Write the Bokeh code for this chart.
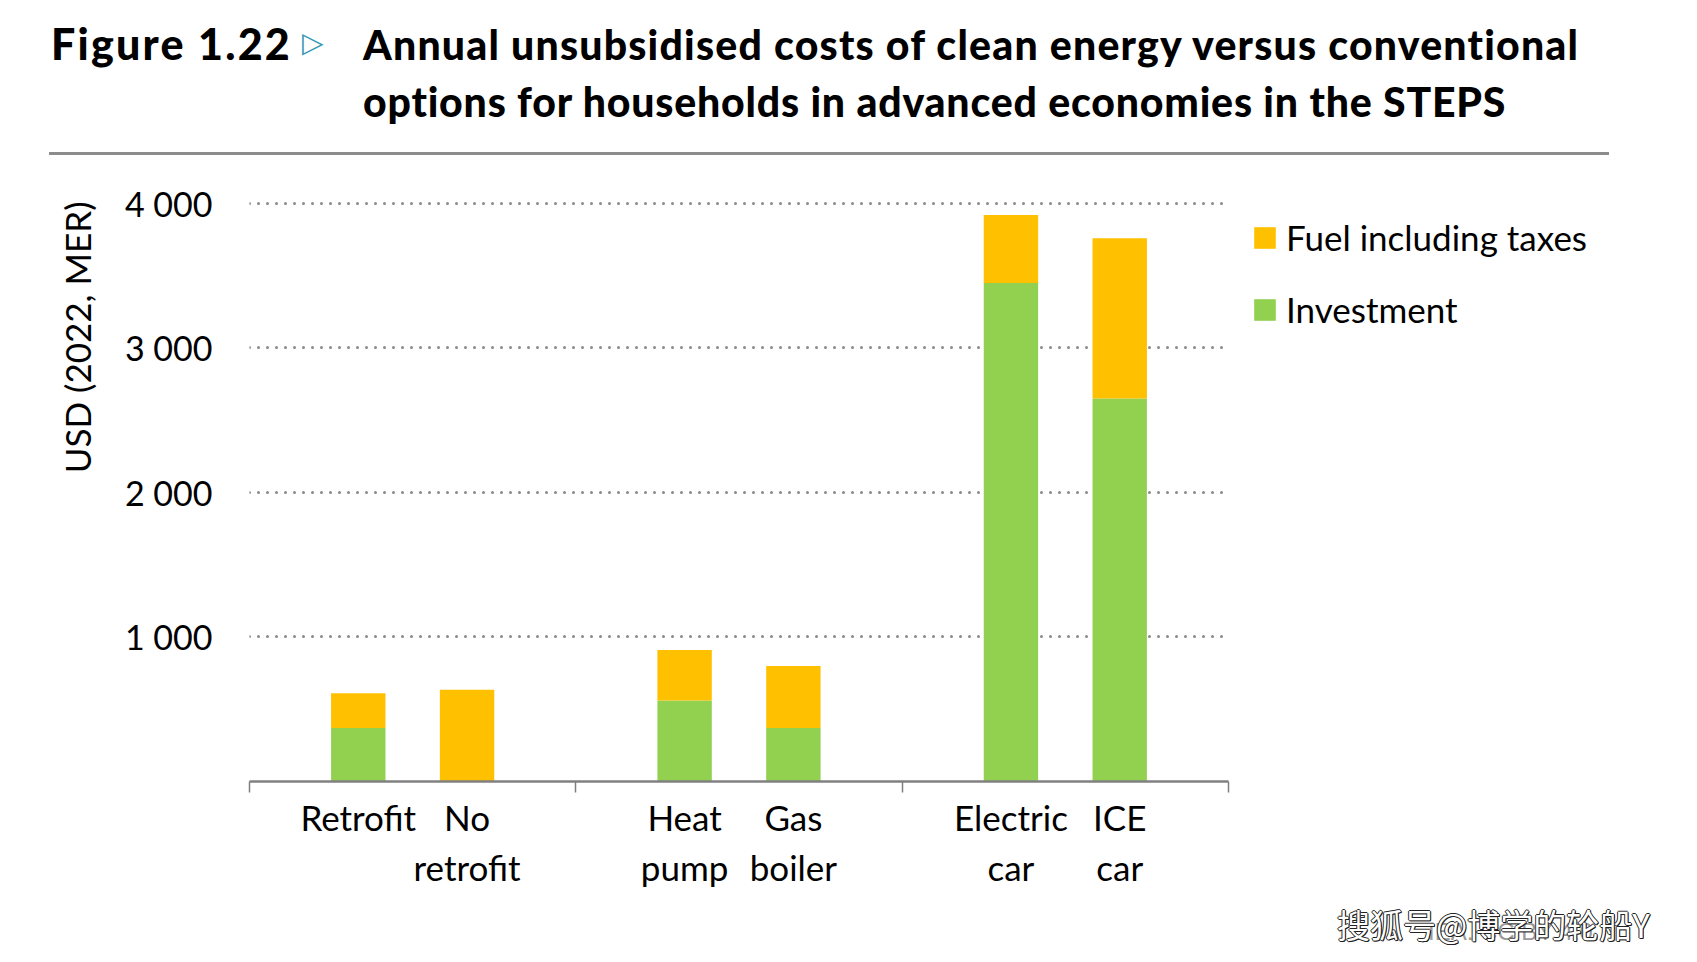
from bokeh.plotting import figure
from bokeh.layouts import column
from bokeh.models import (ColumnDataSource, FixedTicker, Legend, LegendItem, Range1d, Title, Div)
from bokeh.embed import file_html
from bokeh.resources import INLINE

# ---- data ----
categories = ["Retrofit", "No\nretrofit", "Heat\npump", "Gas\nboiler", "Electric\ncar", "ICE\ncar"]
positions = [1, 2, 4, 5, 7, 8]
group_edges = [0, 3, 6, 9]
investment = [370, 0, 560, 370, 3450, 2650]
fuel = [240, 635, 350, 430, 470, 1110]
series = ["Investment", "Fuel including taxes"]
colors = ["#92D050", "#FFC000"]
y_ticks = [1000, 2000, 3000, 4000]
y_tick_labels = ["1 000", "2 000", "3 000", "4 000"]
y_label = "USD (2022, MER)"
fig_no = "Figure 1.22"
title_lines = ["Annual unsubsidised costs of clean energy versus conventional",
               "options for households in advanced economies in the STEPS"]
credit = "IEA. CC BY 4.0."
watermark = "搜狐号@博学的轮船Y"

W = 1681
HEAD_H = 165
MAIN_H = 725
FOOT_H = 56
FONT = "Lato"


def span(left, top, text, style):
    return (f'<div style="position:absolute;left:{left}px;top:{top}px;line-height:1;'
            f'white-space:nowrap;margin:0;padding:0;{style}">{text}</div>')


# ---- header (HTML) ----
head_html = (
    f'<div style="position:relative;width:{W}px;height:{HEAD_H}px;margin:0;padding:0;">'
    + span(51, 21.9, fig_no, f"font-family:{FONT};font-weight:900;font-size:43px;letter-spacing:2.2px;color:#000;")
    + span(302, 29, "\u25B7", "font-family:'DejaVu Sans';font-weight:bold;font-size:28px;color:#3598b4;")
    + span(363, 23.6, title_lines[0], f"font-family:{FONT};font-weight:900;font-size:41px;letter-spacing:1.2px;color:#000;")
    + span(363, 80.6, title_lines[1], f"font-family:{FONT};font-weight:900;font-size:41px;letter-spacing:0.8px;color:#000;")
    + '<div style="position:absolute;left:49px;top:151.5px;width:1560px;height:3px;background:#8c8c8c;"></div>'
    + '</div>'
)
head = Div(text=head_html, width=W, height=HEAD_H, margin=0)

# ---- main chart ----
FL, FR = 249, 1640          # frame left / right (px)
AX_RIGHT = 1228             # where the category axis ends (x = 9)
FT_L, FB_L = 31, 617        # frame top/bottom within the main figure
PX_PER_UNIT = 0.14475
x_end = group_edges[-1] * (FR - FL) / (AX_RIGHT - FL)

src = ColumnDataSource(dict(x=positions, inv=investment, fuel=fuel))

p = figure(width=W, height=MAIN_H, output_backend="svg", toolbar_location=None,
           x_range=Range1d(0, x_end), y_range=Range1d(0, (FB_L - FT_L) / PX_PER_UNIT),
           min_border_left=FL, min_border_right=W - FR, min_border_top=FT_L,
           min_border_bottom=MAIN_H - FB_L, margin=0)
p.outline_line_color = None

rs = p.vbar_stack(["inv", "fuel"], x="x", width=0.5, color=colors, line_color=None, source=src)

p.xgrid.visible = False
p.ygrid.ticker = FixedTicker(ticks=y_ticks)
p.ygrid.cross_bounds = (group_edges[0], group_edges[-1])
p.ygrid.grid_line_color = "#8a8a8a"
p.ygrid.grid_line_width = 3
p.ygrid.grid_line_dash = "0 9"
p.ygrid.grid_line_cap = "round"

xa = p.xaxis[0]
xa.bounds = (group_edges[0], group_edges[-1])
xa.ticker = FixedTicker(ticks=positions, minor_ticks=group_edges)
xa.major_label_overrides = {pos: cat for pos, cat in zip(positions, categories)}
xa.major_tick_line_color = None
xa.minor_tick_out = 11
xa.minor_tick_in = 0
xa.minor_tick_line_color = "#7f7f7f"
xa.minor_tick_line_width = 1.5
xa.axis_line_color = "#808080"
xa.axis_line_width = 2.5
xa.major_label_text_font = FONT
xa.major_label_text_font_size = "35px"
xa.major_label_text_color = "black"
xa.major_label_standoff = 3

ya = p.yaxis[0]
ya.ticker = FixedTicker(ticks=y_ticks)
ya.major_label_overrides = {t: l for t, l in zip(y_ticks, y_tick_labels)}
ya.axis_line_color = None
ya.major_tick_line_color = None
ya.minor_tick_line_color = None
ya.major_label_standoff = 31
ya.major_label_text_font = FONT
ya.major_label_text_font_size = "34px"
ya.major_label_text_color = "black"

p.add_layout(Title(text=y_label, align="right", offset=5, standoff=47,
                   text_font=FONT, text_font_size="35px", text_font_style="normal",
                   text_color="black"), "left")

legend = Legend(items=[LegendItem(label=series[1], renderers=[rs[1]]),
                       LegendItem(label=series[0], renderers=[rs[0]])],
                location=(1002, 451), padding=0, spacing=30, margin=0,
                glyph_width=27, glyph_height=27, label_standoff=8,
                label_text_font=FONT, label_text_font_size="35px",
                label_text_color="black",
                border_line_color=None, background_fill_alpha=0)
p.add_layout(legend)

# ---- footer (HTML) ----
outline = "text-shadow:-1px 0 #222,1px 0 #222,0 -1px #222,0 1px #222,1px 1px #111;"
foot_html = (
    f'<div style="position:relative;width:{W}px;height:{FOOT_H}px;margin:0;padding:0;">'
    + span(1428, 30, credit, "font-family:'Liberation Sans';font-size:24px;color:#9a9a9a;")
    + span(1337, 17.7, watermark, "font-family:'Noto Sans CJK SC';font-size:33px;color:#fff;" + outline)
    + '</div>'
)
foot = Div(text=foot_html, width=W, height=FOOT_H, margin=0)

layout = column(head, p, foot, spacing=0)
open("out.html", "w").write(file_html(layout, INLINE))
